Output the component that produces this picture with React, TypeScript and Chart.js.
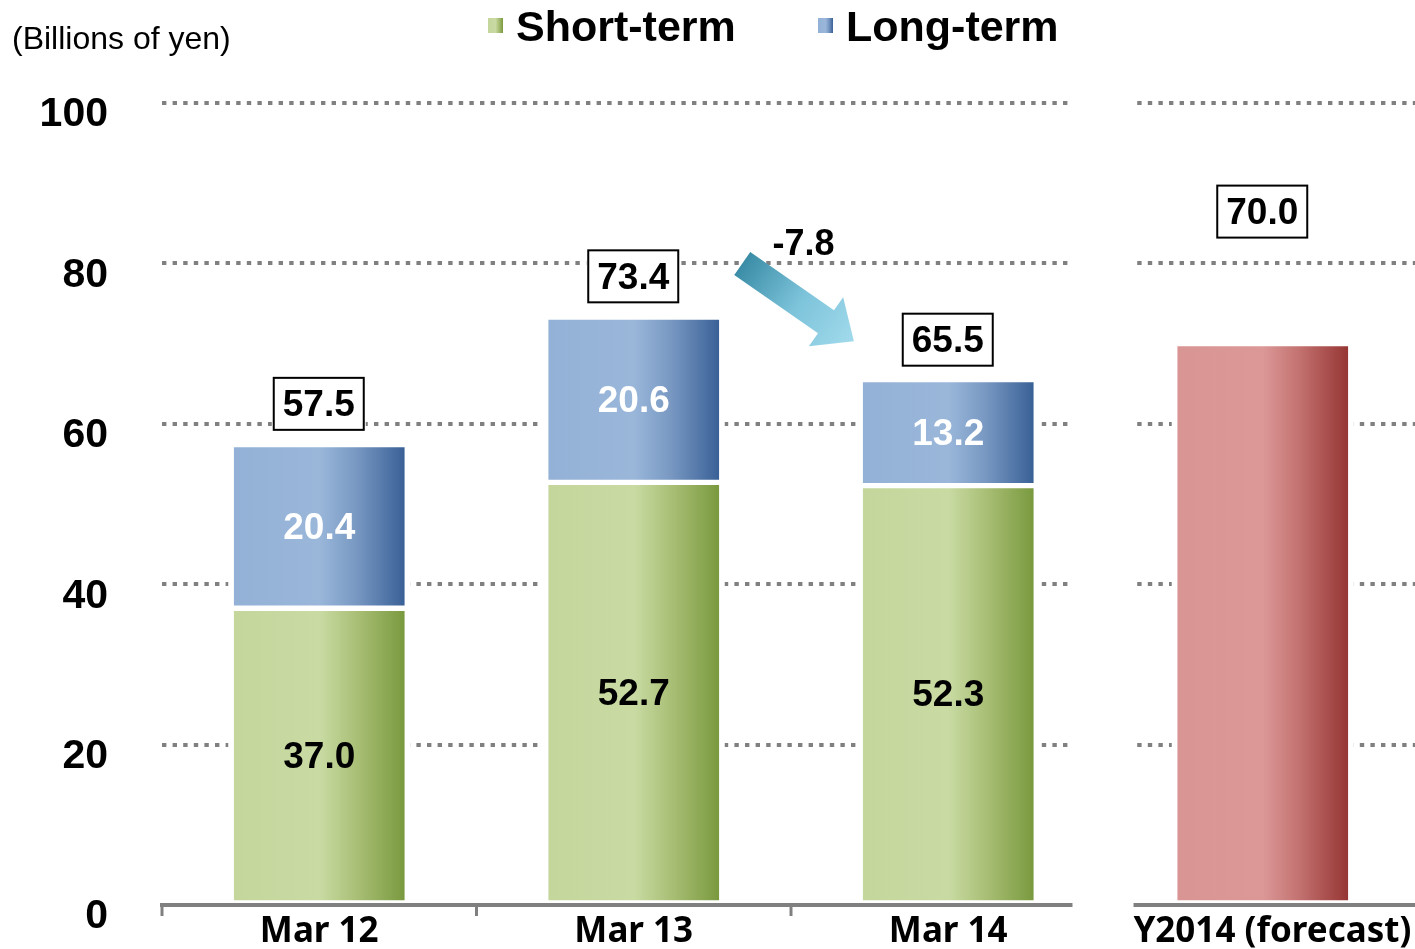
import React, { useEffect, useRef } from 'react';
import { Chart, registerables } from 'chart.js';

Chart.register(...registerables);

const categories = ['Mar 12', 'Mar 13', 'Mar 14', 'FY2014 (forecast)'];
const shortTerm: (number | null)[] = [37.0, 52.7, 52.3, null];
const longTerm: (number | null)[] = [20.4, 20.6, 13.2, null];
const forecast: (number | null)[] = [null, null, null, 70.0];
const totals = [57.5, 73.4, 65.5, 70.0];
const changeLabel = '-7.8';
const legendLabels = ['Short-term', 'Long-term'];
const unitLabel = '(Billions of yen)';

const GREEN = ['#C4D69B', '#C9DBA3', '#A9BF76', '#7A9A3F'];
const BLUE = ['#93B1D6', '#9AB7DA', '#7898C2', '#3A6197'];
const RED = ['#D99594', '#DB9897', '#C2716F', '#963634'];

function makeGrad(ctx: CanvasRenderingContext2D, x0: number, x1: number, c: string[]) {
  const g = ctx.createLinearGradient(x0, 0, x1, 0);
  g.addColorStop(0, c[0]);
  g.addColorStop(0.5, c[1]);
  g.addColorStop(0.72, c[2]);
  g.addColorStop(1, c[3]);
  return g;
}

function scriptedBg(colors: string[]) {
  return (context: any) => {
    const chart = context.chart;
    if (!chart.chartArea || context.dataIndex === undefined) return colors[0];
    const xs = chart.scales.x;
    const cx = xs.getPixelForValue(context.dataIndex);
    return makeGrad(chart.ctx, cx - 85, cx + 85, colors);
  };
}

const customPlugin = {
  id: 'customDraw',
  beforeDatasetsDraw(chart: any) {
    const ctx = chart.ctx;
    ctx.save();
    ctx.fillStyle = '#ffffff';
    chart.data.datasets.forEach((ds: any, di: number) => {
      const meta = chart.getDatasetMeta(di);
      meta.data.forEach((el: any, i: number) => {
        if (ds.data[i] == null) return;
        const p = el.getProps(['x', 'y', 'base', 'width'], true);
        const top = Math.min(p.y, p.base);
        ctx.fillRect(p.x - p.width / 2 - 3, top - 3, p.width + 6, Math.abs(p.base - p.y) + 3);
      });
    });
    ctx.restore();
  },
  afterDatasetsDraw(chart: any) {
    const ctx = chart.ctx;
    const xs = chart.scales.x;
    const ys = chart.scales.y;
    const area = chart.chartArea;
    const catW = (area.right - area.left) / categories.length;
    const base = ys.getPixelForValue(0);
    ctx.save();

    // x axis line and ticks
    ctx.strokeStyle = '#808080';
    ctx.lineWidth = 4;
    ctx.beginPath();
    ctx.moveTo(area.left - 2, base);
    ctx.lineTo(area.right, base);
    ctx.stroke();
    ctx.lineWidth = 3;
    for (let i = 0; i < categories.length; i++) {
      const bx = xs.getPixelForValue(i) - catW / 2;
      ctx.beginPath();
      ctx.moveTo(bx, base);
      ctx.lineTo(bx, base + 11);
      ctx.stroke();
    }

    // segment value labels
    ctx.font = 'bold 37px "Liberation Sans", Arial, sans-serif';
    ctx.textAlign = 'center';
    ctx.textBaseline = 'middle';
    const drawSeg = (di: number, color: string) => {
      const meta = chart.getDatasetMeta(di);
      const data = chart.data.datasets[di].data;
      meta.data.forEach((el: any, i: number) => {
        if (data[i] == null) return;
        const p = el.getProps(['x', 'y', 'base'], true);
        ctx.fillStyle = color;
        ctx.fillText((data[i] as number).toFixed(1), p.x, (p.y + p.base) / 2 + 2);
      });
    };
    drawSeg(0, '#000000');
    drawSeg(1, '#ffffff');

    // gap between actual and forecast panels
    const gapX = xs.getPixelForValue(3) - catW / 2;
    ctx.fillStyle = '#ffffff';
    ctx.fillRect(gapX - 33, area.top - 20, 61, chart.height - area.top + 20);

    // total boxes
    const boxOffset = [40, 40, 40, 132];
    totals.forEach((t, i) => {
      const cx = xs.getPixelForValue(i) - 0.5;
      const cy = ys.getPixelForValue(t) - boxOffset[i];
      const w = 90, h = 52;
      ctx.fillStyle = '#ffffff';
      ctx.fillRect(cx - w / 2 - 2, cy - h / 2 - 2, w + 4, h + 4);
      ctx.strokeStyle = '#000000';
      ctx.lineWidth = 2;
      ctx.strokeRect(cx - w / 2, cy - h / 2, w, h);
      ctx.fillStyle = '#000000';
      ctx.font = 'bold 37px "Liberation Sans", Arial, sans-serif';
      ctx.textBaseline = 'middle';
      ctx.fillText(t.toFixed(1), cx, cy + 2);
    });

    // arrow
    const tx = xs.getPixelForValue(1) + 0.345 * catW;
    const ty = ys.getPixelForValue(80);
    const px = xs.getPixelForValue(2) - 0.3 * catW;
    const py = ys.getPixelForValue(70.3);
    const len = Math.hypot(px - tx, py - ty);
    const ux = (px - tx) / len, uy = (py - ty) / len;
    const nx = -uy, ny = ux;
    const headL = 34, shaftW = 14, headW = 30;
    const bx = px - ux * headL, by = py - uy * headL;
    const grad = ctx.createLinearGradient(tx, ty, px, py);
    grad.addColorStop(0, '#3A8CA6');
    grad.addColorStop(0.5, '#7CC3DA');
    grad.addColorStop(1, '#A2DAEC');
    ctx.fillStyle = grad;
    ctx.beginPath();
    ctx.moveTo(tx + nx * shaftW, ty + ny * shaftW);
    ctx.lineTo(bx + nx * shaftW, by + ny * shaftW);
    ctx.lineTo(bx + nx * headW, by + ny * headW);
    ctx.lineTo(px, py);
    ctx.lineTo(bx - nx * headW, by - ny * headW);
    ctx.lineTo(bx - nx * shaftW, by - ny * shaftW);
    ctx.lineTo(tx - nx * shaftW, ty - ny * shaftW);
    ctx.closePath();
    ctx.fill();

    ctx.fillStyle = '#000000';
    ctx.font = 'bold 36px "Liberation Sans", Arial, sans-serif';
    ctx.textAlign = 'center';
    ctx.textBaseline = 'alphabetic';
    ctx.fillText(changeLabel, xs.getPixelForValue(1) + 0.54 * catW, 255);

    ctx.restore();
  },
  afterDraw(chart: any) {
    const ctx = chart.ctx;
    ctx.save();
    ctx.fillStyle = '#000000';
    ctx.font = '32px "Liberation Sans", Arial, sans-serif';
    ctx.textAlign = 'left';
    ctx.textBaseline = 'alphabetic';
    ctx.fillText(unitLabel, 12, 49);

    const legendX = [488, 818];
    const legendColors = [GREEN, BLUE];
    legendLabels.forEach((lab, i) => {
      ctx.fillStyle = makeGrad(ctx, legendX[i], legendX[i] + 15, legendColors[i]);
      ctx.fillRect(legendX[i], 18, 15, 15);
      ctx.fillStyle = '#000000';
      ctx.font = 'bold 43px "Liberation Sans", Arial, sans-serif';
      ctx.fillText(lab, legendX[i] + 28, 41);
    });
    ctx.restore();
  },
};

export default function App() {
  const ref = useRef<HTMLCanvasElement | null>(null);
  useEffect(() => {
    if (!ref.current) return;
    const chart = new Chart(ref.current, {
      type: 'bar',
      data: {
        labels: categories,
        datasets: [
          {
            label: legendLabels[0],
            data: shortTerm,
            backgroundColor: scriptedBg(GREEN),
            borderColor: '#ffffff',
            borderWidth: 3,
            borderSkipped: false,
            barThickness: 176,
          },
          {
            label: legendLabels[1],
            data: longTerm,
            backgroundColor: scriptedBg(BLUE),
            borderColor: '#ffffff',
            borderWidth: 3,
            borderSkipped: false,
            barThickness: 176,
          },
          {
            label: 'Forecast',
            data: forecast,
            backgroundColor: scriptedBg(RED),
            borderColor: '#ffffff',
            borderWidth: 3,
            borderSkipped: false,
            barThickness: 176,
          },
        ],
      },
      options: {
        animation: false,
        responsive: false,
        devicePixelRatio: 1,
        layout: { padding: { top: 103, right: 20, bottom: 0, left: 0 } },
        plugins: { legend: { display: false }, tooltip: { enabled: false } },
        scales: {
          x: {
            stacked: true,
            grid: { display: false, drawTicks: false },
            border: { display: false },
            ticks: {
              autoSkip: false,
              maxRotation: 0,
              padding: 6,
              color: '#000000',
              font: { family: '"Noto Sans", "DejaVu Sans", sans-serif', size: 35, weight: 'bold' },
            },
            afterFit: (s: any) => { s.height = 44; s.paddingLeft = 0; s.paddingRight = 0; },
          },
          y: {
            stacked: true,
            min: 0,
            max: 100,
            grid: { color: '#808080', lineWidth: 4, drawTicks: false },
            border: { display: false, dash: [4.4, 6.2] },
            ticks: {
              stepSize: 20,
              padding: 54,
              labelOffset: 12,
              color: '#000000',
              font: { family: '"Liberation Sans", Arial, sans-serif', size: 41, weight: 'bold' },
            },
            afterFit: (s: any) => { s.width = 162; s.paddingTop = 0; s.paddingBottom = 0; },
          },
        },
      },
      plugins: [customPlugin],
    } as any);
    return () => chart.destroy();
  }, []);
  return (
    <div style={{ position: 'absolute', left: 0, top: 0, width: 1415, height: 949, overflow: 'hidden', background: '#ffffff' }}>
      <canvas ref={ref} width={1440} height={949} style={{ display: 'block' }} />
    </div>
  );
}
